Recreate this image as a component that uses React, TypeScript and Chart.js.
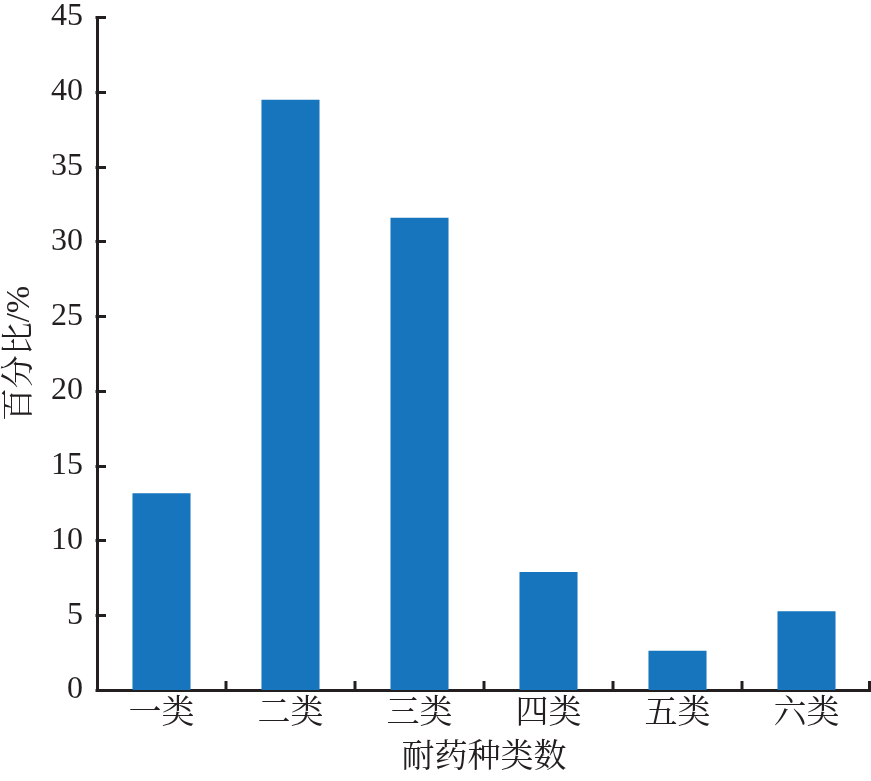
import React, { useEffect, useRef } from "react";
import { Chart, registerables } from "chart.js";

Chart.register(...registerables);

const categories = ["一类", "二类", "三类", "四类", "五类", "六类"];
const percentValues = [13.16, 39.47, 31.58, 7.89, 2.63, 5.26];
const yTickMin = 0;
const yTickMax = 45;
const yTickStep = 5;
const xTitle = "耐药种类数";
const yTitle = "百分比/%";

const INK = "#231f20";
const BAR = "#1675bc";
const FONT = "'Liberation Serif', 'Noto Serif CJK SC', 'Noto Sans CJK SC', serif";

const inwardTicks = {
  id: "inwardTicks",
  afterDraw(chart: any) {
    const ctx = chart.ctx;
    const x = chart.scales.x;
    const y = chart.scales.y;
    const len = 9;
    ctx.save();
    ctx.strokeStyle = INK;
    ctx.lineWidth = 3;
    ctx.lineCap = "butt";
    y.ticks.forEach((_t: any, i: number) => {
      const py = Math.round(y.getPixelForTick(i)) + 0.5;
      ctx.beginPath();
      ctx.moveTo(x.left - 1.5, py);
      ctx.lineTo(x.left + len, py);
      ctx.stroke();
    });
    const n = categories.length;
    for (let k = 1; k <= n; k++) {
      let px: number;
      if (k < n) px = (x.getPixelForTick(k - 1) + x.getPixelForTick(k)) / 2;
      else px = x.right - 1.5;
      ctx.beginPath();
      ctx.moveTo(px, y.bottom + 1.5);
      ctx.lineTo(px, y.bottom - len);
      ctx.stroke();
    }
    ctx.restore();
  },
};

export default function App() {
  const ref = useRef<HTMLCanvasElement | null>(null);
  useEffect(() => {
    document.body.style.margin = "0";
    const canvas = ref.current!;
    const chart = new Chart(canvas, {
      type: "bar",
      data: {
        labels: categories,
        datasets: [
          {
            data: percentValues,
            backgroundColor: BAR,
            borderWidth: 0,
            barPercentage: 0.45,
            categoryPercentage: 1,
          },
        ],
      },
      plugins: [inwardTicks],
      options: {
        responsive: false,
        animation: false,
        devicePixelRatio: 1,
        layout: { padding: { left: 0, top: 17, right: 0, bottom: 0 } },
        plugins: {
          legend: { display: false },
          tooltip: { enabled: false },
        },
        scales: {
          x: {
            type: "category",
            offset: true,
            grid: { display: false, drawTicks: false },
            border: { display: true, color: INK, width: 3 },
            ticks: {
              color: INK,
              padding: 5,
              font: { family: FONT, size: 33 },
              maxRotation: 0,
            },
            title: {
              display: true,
              text: xTitle,
              color: INK,
              font: { family: FONT, size: 33 },
              padding: { top: 0, bottom: 3 },
            },
            afterFit: (s: any) => {
              s.height = 91;
              s.paddingLeft = 0;
              s.paddingRight = 0;
            },
          },
          y: {
            type: "linear",
            min: yTickMin,
            max: yTickMax,
            grid: { display: false, drawTicks: false },
            border: { display: true, color: INK, width: 3 },
            ticks: {
              stepSize: yTickStep,
              color: INK,
              padding: 14,
              font: { family: FONT, size: 32 },
            },
            title: {
              display: true,
              text: yTitle,
              color: INK,
              font: { family: FONT, size: 33 },
              padding: { top: 1, bottom: 0 },
            },
            afterFit: (s: any) => {
              s.width = 97;
              s.paddingTop = 0;
              s.paddingBottom = 0;
            },
          },
        },
      },
    });
    return () => chart.destroy();
  }, []);
  return (
    <div style={{ position: "absolute", left: 0, top: 0, width: 871, height: 781, background: "#fff" }}>
      <canvas ref={ref} width={871} height={781} style={{ width: 871, height: 781, display: "block" }} />
    </div>
  );
}
